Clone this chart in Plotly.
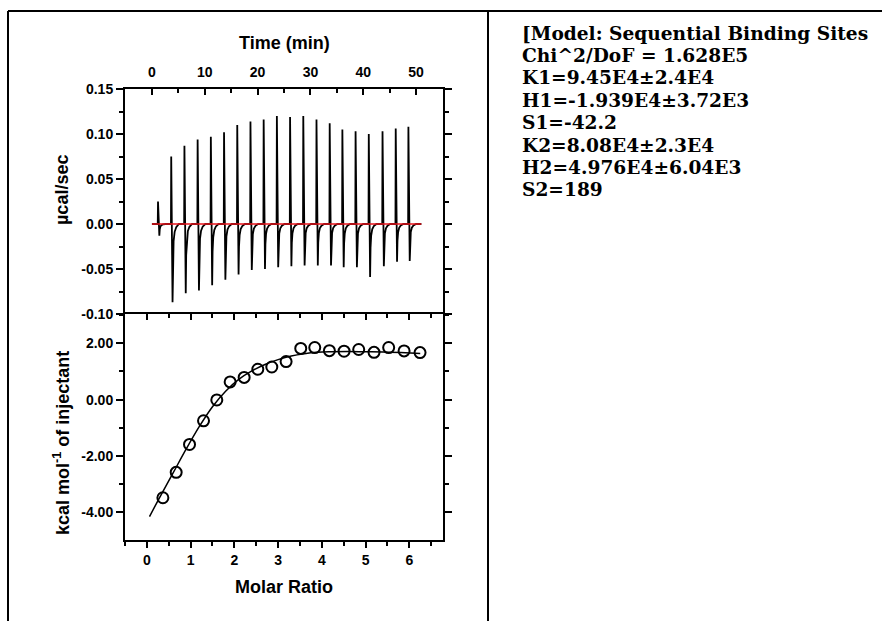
import plotly.graph_objects as go

W, H = 883, 621

# ---------------------------------------------------------------------------
# Data
# ---------------------------------------------------------------------------
injection_times = [1.1, 3.6, 6.1, 8.6, 11.1, 13.6, 16.1, 18.6, 21.1, 23.6,
                   26.1, 28.6, 31.1, 33.6, 36.0, 38.5, 41.0, 43.6, 46.1, 48.5]
peak_heights = [0.025, 0.075, 0.087, 0.094, 0.097, 0.102, 0.110, 0.114, 0.116, 0.120,
                0.119, 0.120, 0.116, 0.112, 0.105, 0.103, 0.100, 0.103, 0.106, 0.108]
trough_depths = [-0.013, -0.087, -0.077, -0.074, -0.068, -0.062, -0.056, -0.051, -0.050, -0.048,
                 -0.047, -0.046, -0.046, -0.046, -0.048, -0.048, -0.059, -0.047, -0.042, -0.041]

# shape of one injection: time offset, share of peak, share of trough
spike_offsets = [0.0, 0.05, 0.30, 0.38, 0.50, 0.70, 1.00, 1.50]
spike_peak_share = [0, 1, 0, 0, 0, 0, 0, 0]
spike_trough_share = [0, 0, 1, 0.45, 0.22, 0.10, 0.04, 0]

trace_start, trace_end = 0.0, 51.0
baseline_t = [0.0, 51.0]
baseline_v = [0.0, 0.0]

molar_ratio = [0.366, 0.670, 0.975, 1.295, 1.599, 1.904, 2.224, 2.536, 2.856, 3.183,
               3.518, 3.838, 4.173, 4.508, 4.843, 5.193, 5.528, 5.880, 6.245]
enthalpy = [-3.48, -2.58, -1.59, -0.75, -0.01, 0.63, 0.79, 1.08, 1.16, 1.35,
            1.82, 1.85, 1.74, 1.72, 1.78, 1.68, 1.85, 1.73, 1.67]

fit_x = [0.06, 0.3, 0.6, 0.9, 1.2, 1.5, 1.8, 2.1, 2.4, 2.7, 3.0, 3.3, 3.6, 3.9,
         4.2, 4.6, 5.0, 5.4, 5.8, 6.25]
fit_y = [-4.15, -3.45, -2.6, -1.75, -0.95, -0.25, 0.3, 0.72, 1.02, 1.25, 1.42, 1.55,
         1.63, 1.68, 1.70, 1.71, 1.70, 1.69, 1.67, 1.64]

time_ticks = [0, 10, 20, 30, 40, 50]
power_ticks = [-0.10, -0.05, 0.0, 0.05, 0.10, 0.15]
power_labels = ["-0.10", "-0.05", "0.00", "0.05", "0.10", "0.15"]
ratio_ticks = [0, 1, 2, 3, 4, 5, 6]
heat_ticks = [-4, -2, 0, 2]
heat_labels = ["-4.00", "-2.00", "0.00", "2.00"]

fit_text = [
    "[Model: Sequential Binding Sites",
    "Chi^2/DoF = 1.628E5",
    "K1=9.45E4±2.4E4",
    "H1=-1.939E4±3.72E3",
    "S1=-42.2",
    "K2=8.08E4±2.3E4",
    "H2=4.976E4±6.04E3",
    "S2=189",
]


def px_x(p):
    return p / W


def px_y(p):
    return 1 - p / H


# build the raw thermogram from the injection list
raw_t = [trace_start]
raw_v = [0.0]
for t0, pk, tr in zip(injection_times, peak_heights, trough_depths):
    for off, a, b in zip(spike_offsets, spike_peak_share, spike_trough_share):
        raw_t.append(t0 + off)
        raw_v.append(pk * a + tr * b)
raw_t.append(trace_end)
raw_v.append(0.0)

SANS = "Liberation Sans, Arial, sans-serif"
tick_font = dict(family=SANS, size=14, color="black", weight="bold")
title_font = dict(family=SANS, size=18, color="black", weight="bold")

fig = go.Figure()

fig.add_trace(go.Scatter(x=raw_t, y=raw_v, mode="lines", xaxis="x", yaxis="y",
                         line=dict(color="black", width=1.8), showlegend=False))
fig.add_trace(go.Scatter(x=baseline_t, y=baseline_v, mode="lines", xaxis="x", yaxis="y",
                         line=dict(color="#e8141c", width=1.5), showlegend=False))
fig.add_trace(go.Scatter(x=fit_x, y=fit_y, mode="lines", xaxis="x2", yaxis="y2",
                         line=dict(color="black", width=1.5, shape="spline"), showlegend=False))
fig.add_trace(go.Scatter(x=molar_ratio, y=enthalpy, mode="markers", xaxis="x2", yaxis="y2",
                         marker=dict(symbol="circle-open", size=11, color="black",
                                     line=dict(width=2)),
                         showlegend=False))
# invisible trace so the top mirror axis of the lower panel is drawn
fig.add_trace(go.Scatter(x=[0], y=[0], mode="markers", xaxis="x3", yaxis="y2",
                         marker=dict(opacity=0), showlegend=False, hoverinfo="skip"))

x_dom = [px_x(125), px_x(443)]
top_dom = [px_y(314), px_y(89)]
bot_dom = [px_y(540), px_y(314)]

common = dict(showgrid=False, zeroline=False, showline=True, linecolor="black",
              linewidth=2, tickcolor="black", tickwidth=2, tickfont=tick_font,
              automargin=False)

fig.update_layout(
    width=W, height=H,
    margin=dict(l=0, r=0, t=0, b=0, pad=0),
    paper_bgcolor="white", plot_bgcolor="white",
    xaxis=dict(domain=x_dom, anchor="y", side="top", range=[-5.1, 55.1],
               tickmode="array", tickvals=time_ticks, ticks="inside", ticklen=6,
               ticklabelstandoff=4,
               minor=dict(tickmode="linear", tick0=0, dtick=5, ticks="inside",
                          ticklen=4, tickwidth=2, tickcolor="black"),
               **common),
    yaxis=dict(domain=top_dom, anchor="x", range=[-0.10, 0.15],
               tickmode="array", tickvals=power_ticks, ticktext=power_labels,
               ticks="outside", ticklen=7, mirror="ticks",
               minor=dict(tickmode="linear", tick0=0, dtick=0.025, ticks="outside",
                          ticklen=4, tickwidth=2, tickcolor="black"),
               **common),
    xaxis2=dict(domain=x_dom, anchor="y2", range=[-0.5, 6.77],
                tickmode="array", tickvals=ratio_ticks, ticks="outside", ticklen=6,
                minor=dict(tickmode="linear", tick0=0, dtick=0.5, ticks="outside",
                           ticklen=4, tickwidth=2, tickcolor="black"),
                **common),
    xaxis3=dict(overlaying="x2", anchor="y2", side="top", range=[-0.5, 6.77],
                showticklabels=False, tickmode="array", tickvals=ratio_ticks,
                ticks="inside", ticklen=6,
                minor=dict(tickmode="linear", tick0=0, dtick=0.5, ticks="inside",
                           ticklen=4, tickwidth=2, tickcolor="black"),
                **common),
    yaxis2=dict(domain=bot_dom, anchor="x2", range=[-4.98, 3.04],
                tickmode="array", tickvals=heat_ticks, ticktext=heat_labels,
                ticks="outside", ticklen=7, mirror="ticks",
                minor=dict(tickmode="linear", tick0=0, dtick=1, ticks="outside",
                           ticklen=4, tickwidth=2, tickcolor="black"),
                **common),
)

annotations = [
    dict(text="Time (min)", x=px_x(284), y=px_y(43)),
    dict(text="Molar Ratio", x=px_x(284), y=px_y(587)),
    dict(text="µcal/sec", x=px_x(62), y=px_y(190), textangle=-90),
    dict(text="kcal mol<sup>-1</sup> of injectant", x=px_x(62), y=px_y(443), textangle=-90),
]
for a in annotations:
    fig.add_annotation(xref="paper", yref="paper", showarrow=False,
                       xanchor="center", yanchor="middle", font=title_font, **a)

# fit report, one line per annotation
serif_font = dict(family="DejaVu Serif, Liberation Serif, serif", size=18.6,
                  color="black", weight="bold")
for i, line in enumerate(fit_text):
    fig.add_annotation(xref="paper", yref="paper", x=px_x(520), y=px_y(33 + 22.4 * i),
                       xanchor="left", yanchor="middle", align="left",
                       showarrow=False, text=line, font=serif_font)

# outer frame and divider
frame = [
    (8, 11, 882, 11),
    (8, 11, 8, 621),
    (488, 11, 488, 621),
]
for x0, y0, x1, y1 in frame:
    fig.add_shape(type="line", xref="paper", yref="paper",
                  x0=px_x(x0), y0=px_y(y0), x1=px_x(x1), y1=px_y(y1),
                  line=dict(color="black", width=2))

fig.write_html("out.html", config={"displayModeBar": False},
               post_script="document.body.style.margin='0px';")
